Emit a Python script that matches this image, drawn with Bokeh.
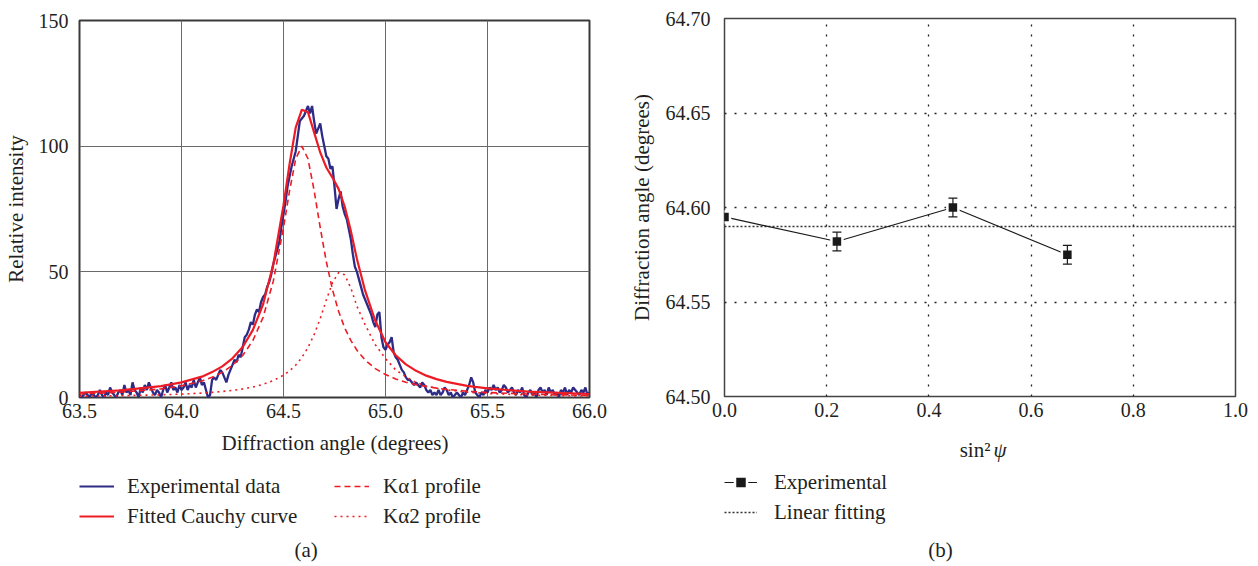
import numpy as np
from bokeh.plotting import figure
from bokeh.models import (Range1d, FixedTicker, NumeralTickFormatter, Legend, LegendItem,
                          Label, Whisker, TeeHead, ColumnDataSource)
from bokeh.layouts import row, column
from bokeh.embed import file_html
from bokeh.resources import INLINE

FONT = "Liberation Serif"
INK = "#231f20"
BLUE = "#2E2B87"
RED = "#ED1C24"
BLK = "#1a1a1a"
NAN = float("nan")

# ---------------- panel (a) data ----------------
exp_angle_start = 63.50
exp_angle_step = 0.01
exp_intensity = [
    1, 0, 1, 2, 1, 0, 2, 1, 0, 1,
    3, 1, 0, 2, 1, 4, 2, 1, 0, 2,
    3, 1, 5, 2, 3, 1, 6, 3, 2, 0,
    4, 2, 5, 3, 6, 4, 2, 1, 3, 2,
    0, 3, 5, 2, 4, 6, 3, 4, 2, 5,
    3, 4, 6, 3, 5, 4, 7, 4, 6, 8,
    5, 6, 3, 0, 1, 7, 8, 7, 9, 11,
    10, 8, 6, 9, 11, 13, 15, 14, 17, 16,
    20, 24, 25, 27, 30, 29, 33, 35, 34, 38,
    40, 41, 44, 46, 49, 53, 56, 59, 62, 68,
    73, 78, 84, 88, 92, 95, 98, 104, 110, 111,
    112, 114, 116, 113, 116, 110, 105, 107, 109, 104,
    100, 96, 95, 91, 92, 84, 75, 79, 82, 76,
    73, 71, 67, 63, 57, 52, 50, 47, 44, 41,
    39, 37, 35, 33, 30, 28, 33, 34, 24, 20,
    19, 21, 22, 24, 18, 16, 15, 13, 11, 10,
    8, 7, 7, 6, 5, 6, 5, 4, 6, 5,
    3, 2, 3, 1, 2, 1, 3, 1, 2, 4,
    3, 1, 2, 0, 1, 2, 1, 0, 2, 1,
    3, 5, 8, 6, 2, 1, 0, 2, 1, 3,
    2, 4, 3, 5, 3, 4, 2, 3, 5, 4,
    2, 3, 4, 2, 1, 3, 2, 4, 1, 0,
    2, 3, 1, 2, 0, 3, 4, 2, 3, 1,
    4, 2, 3, 1, 2, 0, 3, 2, 4, 1,
    3, 2, 4, 3, 2, 1, 3, 2, 4, 1,
    2,
]
exp_angle = [round(exp_angle_start + i * exp_angle_step, 2) for i in range(len(exp_intensity))]

curve_angle = [63.5, 63.7, 63.9, 64.0, 64.1, 64.15, 64.2, 64.25, 64.3, 64.35,
               64.4, 64.45, 64.5, 64.53, 64.56, 64.59, 64.62, 64.65, 64.68, 64.71,
               64.74, 64.77, 64.8, 64.83, 64.86, 64.9, 64.95, 65.0, 65.05, 65.1,
               65.15, 65.2, 65.25, 65.3, 65.4, 65.5, 65.7, 66.0]
fitted_cauchy = [1.9, 2.8, 4.5, 6.0, 8.3, 10.1, 12.4, 15.6, 20.1, 26.9,
                 37.1, 53.0, 76.5, 93.0, 107.5, 114.5, 113.5, 105.5, 97.5, 91.5,
                 87.5, 83.0, 76.0, 66.3, 55.1, 42.5, 30.5, 22.0, 16.8, 13.2,
                 10.6, 8.7, 7.3, 6.2, 4.6, 3.6, 2.3, 1.4]
ka1_profile = [1.40, 2.09, 3.43, 4.63, 6.58, 8.03, 10.0, 12.8, 16.7, 22.7,
               31.9, 46.3, 67.6, 82.4, 95.0, 100.0, 95.0, 82.4, 67.6, 54.0,
               42.9, 34.3, 27.7, 22.7, 18.8, 14.9, 11.5, 9.13, 7.4, 6.1,
               5.11, 4.35, 3.73, 3.25, 2.51, 2.0, 1.35, 0.84]
ka2_profile = [0.51, 0.71, 1.07, 1.35, 1.76, 2.04, 2.39, 2.84, 3.42, 4.19,
               5.24, 6.72, 8.87, 10.6, 12.9, 15.9, 19.9, 25.0, 31.4, 38.8,
               45.7, 49.7, 48.8, 43.6, 36.3, 29.0, 21.0, 15.5, 11.0, 8.2,
               6.0, 4.6, 3.7, 3.0, 2.1, 1.6, 0.98, 0.56]

a_xticks = [63.5, 64.0, 64.5, 65.0, 65.5, 66.0]
a_yticks = [0, 50, 100, 150]

# ---------------- panel (b) data ----------------
sin2psi = [0.0, 0.22, 0.447, 0.671]
peak_angle = [64.595, 64.582, 64.600, 64.575]
peak_err = [0.0, 0.005, 0.005, 0.005]
fit_x = [0.0, 1.0]
fit_y = [64.590, 64.590]
b_xticks = [0.0, 0.2, 0.4, 0.6, 0.8, 1.0]
b_yticks = [64.50, 64.55, 64.60, 64.65, 64.70]


def style_axes(p):
    p.background_fill_color = "white"
    p.border_fill_color = "white"
    for ax in p.axis:
        ax.major_label_text_font = FONT
        ax.major_label_text_font_size = "20px"
        ax.major_label_text_color = INK
        ax.axis_label_text_font = FONT
        ax.axis_label_text_font_size = "21px"
        ax.axis_label_text_font_style = "normal"
        ax.axis_label_text_color = INK
        ax.axis_line_color = None
        ax.major_tick_line_color = None
        ax.minor_tick_line_color = None
        ax.major_tick_out = 0
        ax.major_tick_in = 0


def style_legend(leg, gw, standoff):
    leg.border_line_color = None
    leg.background_fill_alpha = 0
    leg.padding = 0
    leg.margin = 0
    leg.spacing = 0
    leg.glyph_width = gw
    leg.glyph_height = 30
    leg.label_height = 30
    leg.label_standoff = standoff
    leg.label_text_font = FONT
    leg.label_text_font_size = "21px"
    leg.label_text_color = INK


def text_label(fig, x, y, text, align="center", style="normal"):
    fig.add_layout(Label(x=x, y=y, text=text, text_align=align, text_baseline="middle",
                         text_font=FONT, text_font_size="21px", text_font_style=style,
                         text_color=INK))


def blank_fig(w, h, left, right):
    # frame is kept the same width as the plot above it; x in the range = px from frame left
    f = figure(width=w, height=h, x_range=Range1d(0, w - left - right), y_range=Range1d(0, h),
               x_axis_location=None, y_axis_location=None,
               min_border_left=left, min_border_right=right, min_border_top=0, min_border_bottom=0,
               output_backend="svg", toolbar_location=None)
    f.grid.visible = False
    f.outline_line_color = None
    f.background_fill_color = "white"
    f.border_fill_color = "white"
    return f


# ================= panel (a) =================
p1 = figure(width=620, height=430, x_range=Range1d(63.5, 66.0), y_range=Range1d(0, 150),
            min_border_left=78, min_border_right=31, min_border_top=20, min_border_bottom=33,
            output_backend="svg", toolbar_location=None)
style_axes(p1)
p1.xaxis.ticker = FixedTicker(ticks=a_xticks)
p1.xaxis.formatter = NumeralTickFormatter(format="0.0")
p1.yaxis.ticker = FixedTicker(ticks=a_yticks)
p1.yaxis.axis_label = "Relative intensity"
p1.xaxis.major_label_standoff = 6
p1.yaxis.major_label_standoff = 11
p1.yaxis.axis_label_standoff = 8
p1.xgrid.ticker = FixedTicker(ticks=a_xticks[1:-1])
p1.ygrid.ticker = FixedTicker(ticks=a_yticks[1:-1])
p1.grid.grid_line_color = "#6a6a6a"
p1.grid.grid_line_width = 1
p1.outline_line_color = "#3a3a3a"
p1.outline_line_width = 2
p1.outline_line_alpha = 1

p1.line(exp_angle, exp_intensity, line_color=BLUE, line_width=2.3)
p1.line(curve_angle, ka2_profile, line_color=RED, line_width=1.6, line_dash="2 4")
p1.line(curve_angle, ka1_profile, line_color=RED, line_width=1.6, line_dash="6 4")
p1.line(curve_angle, fitted_cauchy, line_color=RED, line_width=2.2)

low1 = blank_fig(620, 136, 78, 31)
text_label(low1, 256, 566 - 442, "Diffraction angle (degrees)")
d_exp = low1.line(x=[NAN], y=[NAN], line_color=BLUE, line_width=2)
d_fit = low1.line(x=[NAN], y=[NAN], line_color=RED, line_width=2)
d_ka1 = low1.line(x=[NAN], y=[NAN], line_color=RED, line_width=1.6, line_dash="6 4")
d_ka2 = low1.line(x=[NAN], y=[NAN], line_color=RED, line_width=1.6, line_dash="2 4")
leg_a1 = Legend(items=[LegendItem(label="Experimental data", renderers=[d_exp]),
                       LegendItem(label="Fitted Cauchy curve", renderers=[d_fit])],
                location=(0, 35))
style_legend(leg_a1, 35, 13)
leg_a2 = Legend(items=[LegendItem(label="K\u03b11 profile", renderers=[d_ka1]),
                       LegendItem(label="K\u03b12 profile", renderers=[d_ka2])],
                location=(255, 35))
style_legend(leg_a2, 35, 14)
low1.add_layout(leg_a1)
low1.add_layout(leg_a2)
text_label(low1, 227, 566 - 549, "(a)")

# ================= panel (b) =================
p2 = figure(width=638, height=430, x_range=Range1d(0, 1), y_range=Range1d(64.5, 64.7),
            min_border_left=104, min_border_right=23, min_border_top=18, min_border_bottom=34,
            output_backend="svg", toolbar_location=None)
style_axes(p2)
p2.xaxis.ticker = FixedTicker(ticks=b_xticks)
p2.xaxis.formatter = NumeralTickFormatter(format="0.0")
p2.yaxis.ticker = FixedTicker(ticks=b_yticks)
p2.yaxis.formatter = NumeralTickFormatter(format="0.00")
p2.yaxis.axis_label = "Diffraction angle (degrees)"
p2.xaxis.major_label_standoff = 6
p2.yaxis.major_label_standoff = 14
p2.yaxis.axis_label_standoff = 9
p2.xgrid.ticker = FixedTicker(ticks=b_xticks[1:-1])
p2.ygrid.ticker = FixedTicker(ticks=b_yticks[1:-1])
p2.grid.grid_line_color = "#222222"
p2.grid.grid_line_width = 1.3
p2.grid.grid_line_dash = "2 8"
p2.outline_line_color = "#444444"
p2.outline_line_width = 1.5
p2.outline_line_alpha = 1

p2.line(fit_x, fit_y, line_color="#333333", line_width=1.5, line_dash="2 2")
p2.line(sin2psi, peak_angle, line_color=BLK, line_width=1.2)
p2.scatter(sin2psi, peak_angle, marker="square", size=11, fill_color=BLK,
           line_color="white", line_width=2.5)
wsrc = ColumnDataSource(data=dict(
    x=[x for x, e in zip(sin2psi, peak_err) if e > 0],
    upper=[y + e for y, e in zip(peak_angle, peak_err) if e > 0],
    lower=[y - e for y, e in zip(peak_angle, peak_err) if e > 0]))
p2.add_layout(Whisker(base="x", upper="upper", lower="lower", source=wsrc,
                      line_color=BLK, line_width=1.2, level="overlay",
                      upper_head=TeeHead(size=9, line_color=BLK, line_width=1.2),
                      lower_head=TeeHead(size=9, line_color=BLK, line_width=1.2)))

low2 = blank_fig(638, 136, 104, 23)
text_label(low2, 266, 566 - 449, "sin\u00b2", align="right")
text_label(low2, 269, 566 - 449, "\u03c8", align="left", style="italic")
d_eline = low2.line(x=[NAN], y=[NAN], line_color=BLK, line_width=1.2)
d_epts = low2.scatter(x=[NAN], y=[NAN], marker="square", size=11, fill_color=BLK,
                      line_color="white", line_width=2.5)
d_lin = low2.line(x=[NAN], y=[NAN], line_color="#333333", line_width=1.5, line_dash="2 2")
leg_b = Legend(items=[LegendItem(label="Experimental", renderers=[d_eline, d_epts]),
                      LegendItem(label="Linear fitting", renderers=[d_lin])],
               location=(0, 39))
style_legend(leg_b, 33, 17)
low2.add_layout(leg_b)
text_label(low2, 216, 566 - 549, "(b)")

layout = row(column(p1, low1), column(p2, low2))
open("out.html", "w").write(file_html(layout, INLINE))
